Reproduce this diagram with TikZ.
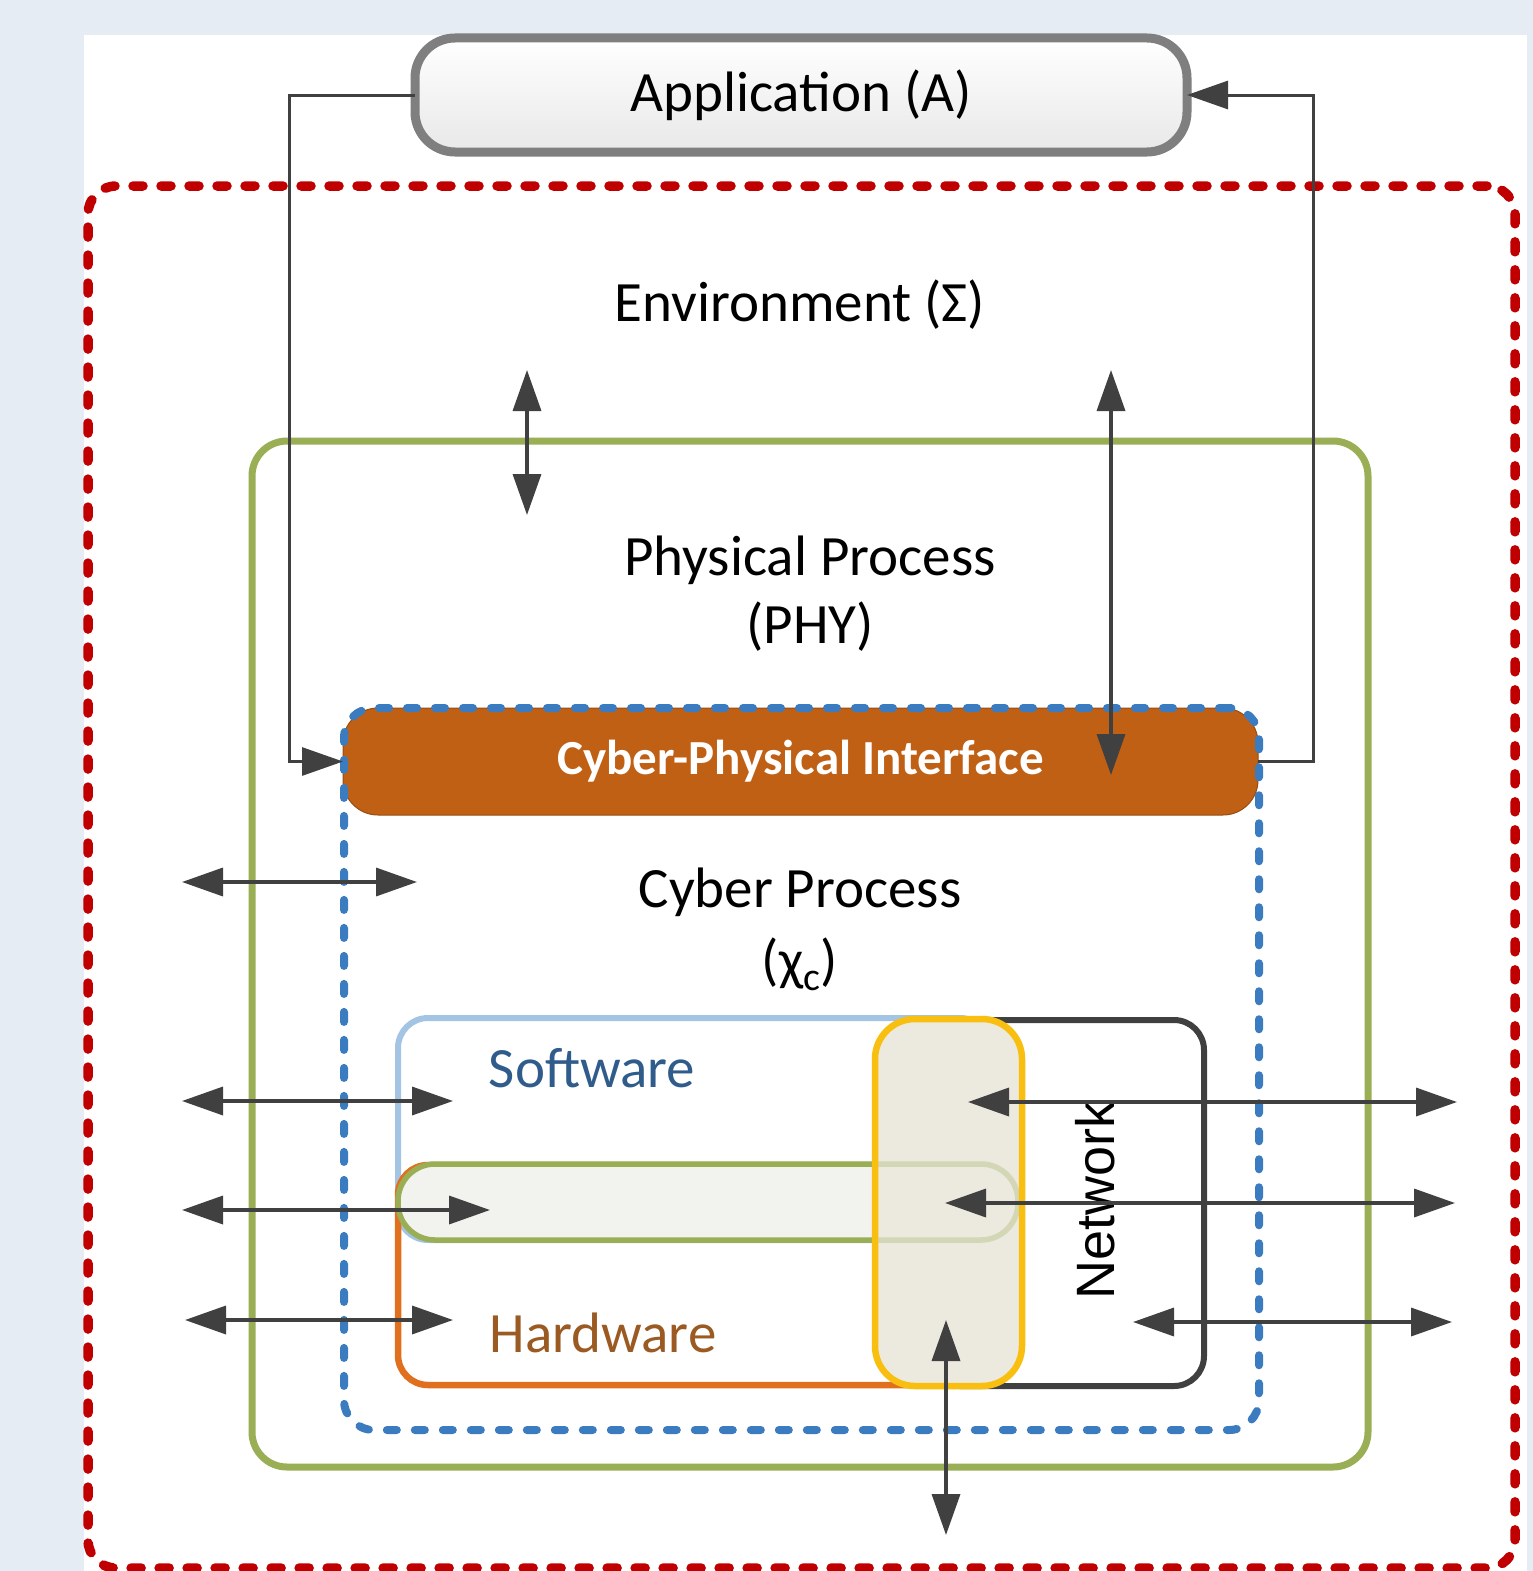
\documentclass[tikz,border=0pt]{standalone}
\usepackage{fontspec}
\setmainfont{Carlito}
\newfontfamily\arialf{Liberation Sans}
\usetikzlibrary{arrows.meta,calc}
\definecolor{bgc}{HTML}{E6ECF4}
\definecolor{redc}{HTML}{C00000}
\definecolor{greenc}{HTML}{9AAF55}
\definecolor{bluec}{HTML}{3B7CC0}
\definecolor{cpic}{HTML}{BF6015}
\definecolor{yelc}{HTML}{F9BF10}
\definecolor{yelfill}{HTML}{ECE9DF}
\definecolor{swc}{HTML}{A3C4E3}
\definecolor{hwc}{HTML}{E0701E}
\definecolor{netc}{HTML}{404040}
\definecolor{swtext}{HTML}{2F5C8A}
\definecolor{hwtext}{HTML}{9A5A22}
\definecolor{appgray}{HTML}{7F7F7F}
\definecolor{arrowc}{HTML}{404040}
\definecolor{bandc}{HTML}{F2F2EF}
\begin{document}
\begin{tikzpicture}[x=1pt,y=-1pt,
  >={Triangle[length=41pt,width=28pt]},
  conn/.style={draw=arrowc,line width=3.5pt},
  box/.style={rectangle,outer sep=0pt,inner sep=0pt},
  dashbox/.style={box,dash pattern=on 10pt off 18pt,line cap=round},
  lbl/.style={font=\fontsize{57}{68}\selectfont,align=center,text=black}]
\fill[bgc] (0,0) rectangle (1533,1571);
\fill[white] (84,35) rectangle (1527,1571);
\useasboundingbox (0,0) rectangle (1533,1571);

% system boundary
\node[dashbox,draw=redc,line width=9.5pt,rounded corners=28pt,minimum width=1427pt,minimum height=1382pt] (sys) at (801.5,877) {};

% application
\node[box,draw=appgray,line width=9pt,rounded corners=40pt,top color=white,bottom color=gray!18,minimum width=772pt,minimum height=114pt,lbl] (app) at (801,95) {Application (A)};

\node[lbl] (env) at (800,305) {Environment (Σ)};

% physical process
\node[box,draw=greenc,line width=7pt,rounded corners=35pt,minimum width=1116pt,minimum height=1026pt] (phy) at (810,954) {};
\node[lbl] (phyt) at (810,594) {Physical Process\\(PHY)};

% cyber-physical interface
\node[box,fill=cpic,draw=cpic!80!black,line width=1pt,rounded corners=35pt,minimum width=915pt,minimum height=107pt,text=white,font=\bfseries\fontsize{49}{56}\selectfont] (cpi) at (800.5,761.5) {Cyber-Physical Interface};

% cyber process
\node[dashbox,draw=bluec,line width=8pt,rounded corners=30pt,minimum width=915pt,minimum height=722pt] (cyb) at (801.5,1069) {};
\node[lbl,font=\fontsize{57}{72}\selectfont] (cybt) at (800,929) {Cyber Process\\(χ\textsubscript{c})};

% network, software, hardware
\node[box,draw=netc,line width=6pt,rounded corners=30pt,minimum width=274pt,minimum height=366pt] (net) at (1067,1203) {};
\node[box,draw=swc,line width=6pt,rounded corners=30pt,minimum width=592pt,minimum height=222pt] (sw) at (694,1129) {};
\node[box,draw=hwc,line width=6.5pt,rounded corners=30pt,minimum width=592pt,minimum height=220pt] (hw) at (694,1275) {};
\node[box,draw=greenc,line width=5.5pt,fill=bandc,rounded corners=37pt,minimum width=620pt,minimum height=76pt] (band) at (708,1202) {};
\node[box,fill=yelfill,rounded corners=40pt,minimum width=147pt,minimum height=367pt] (yel) at (948.5,1202.5) {};
\begin{scope}
  \clip[rounded corners=40pt] (yel.north west) rectangle (yel.south east);
  \draw[greenc,opacity=0.3,line width=5.5pt,rounded corners=37pt] (band.north west) rectangle (band.south east);
\end{scope}
\draw[yelc,line width=6.5pt,rounded corners=40pt] (yel.north west) rectangle (yel.south east);

\node[font=\fontsize{57}{68}\selectfont,text=swtext] (swt) at (592,1068) {Software};
\node[font=\fontsize{57}{68}\selectfont,text=hwtext] (hwt) at (603,1333) {Hardware};
\node[rotate=90,font=\arialf\fontsize{54}{60}\selectfont] (nett) at (1095,1200) {Network};

% feedback loop
\draw[conn,line width=3pt,->] (app.west) -- ++(-126,0) |- (cpi.west);
\draw[conn,line width=3pt,->] (cpi.east) -- ++(55,0) |- (app.east);

% interaction arrows
\coordinate (v1a) at (527,370); \coordinate (v1b) at (527,515);
\coordinate (v2a) at (1111,370); \coordinate (v2b) at (1111,775);
\coordinate (v3a) at (946,1320); \coordinate (v3b) at (946,1535);
\coordinate (l1a) at (182,882); \coordinate (l1b) at (417,882);
\coordinate (l2a) at (182,1101); \coordinate (l2b) at (453,1101);
\coordinate (l3a) at (182,1210); \coordinate (l3b) at (490,1210);
\coordinate (l4a) at (185,1320); \coordinate (l4b) at (453,1320);
\coordinate (r1a) at (968,1102); \coordinate (r1b) at (1457,1102);
\coordinate (r2a) at (945,1203); \coordinate (r2b) at (1455,1203);
\coordinate (r3a) at (1133,1322); \coordinate (r3b) at (1452,1322);
\foreach \p in {v1,v2,v3,l1,l2,l3,l4,r1,r2,r3}
  \draw[conn,<->] (\p a) -- (\p b);
\end{tikzpicture}
\end{document}
